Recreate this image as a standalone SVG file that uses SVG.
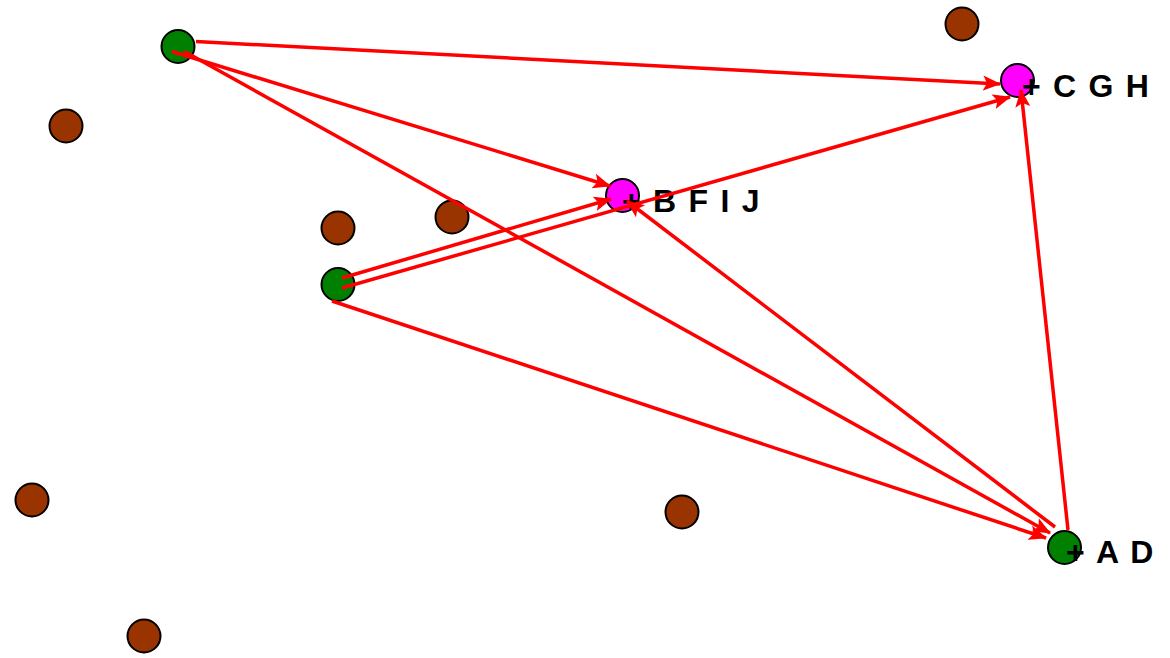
<svg xmlns="http://www.w3.org/2000/svg" width="1170" height="658" viewBox="0 0 1170 658">
<defs>
<style>
.n circle{stroke:#000;stroke-width:2}
.g{fill:#008000}.m{fill:#ff00ff}.b{fill:#993300}
.lbl{font-family:"Liberation Sans",Arial,sans-serif;font-weight:bold;font-size:32px;word-spacing:3.5px;fill:#000}
.e line{stroke:#ff0000;stroke-width:3.5;fill:none}
</style>
<marker id="ah" markerUnits="userSpaceOnUse" markerWidth="20" markerHeight="16" refX="17" refY="7.5" orient="auto" viewBox="0 0 20 15">
<path d="M0,0 L18,7.5 L0,15 L4,7.5 z" fill="#ff0000"/>
</marker>
</defs>
<rect width="1170" height="658" fill="#fff"/>
<g id="n1" class="n"><circle class="g" cx="178" cy="46.5" r="16.5"/></g>
<g id="n2" class="n"><circle class="b" cx="962" cy="24" r="16.5"/></g>
<g id="nC" class="n"><circle class="m" cx="1017.5" cy="80.5" r="16.5"/><text class="lbl" x="1022" y="97">+ C G H</text></g>
<g id="n3" class="n"><circle class="b" cx="66" cy="126" r="16.5"/></g>
<g id="nB" class="n"><circle class="m" cx="622.5" cy="195.5" r="16.5"/><text class="lbl" x="622" y="212">+ B F I J</text></g>
<g id="n4" class="n"><circle class="b" cx="338" cy="228" r="16.5"/></g>
<g id="n5" class="n"><circle class="b" cx="452" cy="217" r="16.5"/></g>
<g id="n6" class="n"><circle class="g" cx="338" cy="284.5" r="16.5"/></g>
<g id="n7" class="n"><circle class="b" cx="32" cy="500" r="16.5"/></g>
<g id="n8" class="n"><circle class="b" cx="682" cy="512" r="16.5"/></g>
<g id="nA" class="n"><circle class="g" cx="1064.5" cy="547.5" r="16.5"/><text class="lbl" x="1066" y="563">+ A D</text></g>
<g id="n9" class="n"><circle class="b" cx="144" cy="636" r="16.5"/></g>
<g id="edges" class="e">
<line x1="196" y1="41.5" x2="1000" y2="84" marker-end="url(#ah)"/>
<line x1="172" y1="51.5" x2="610" y2="186" marker-end="url(#ah)"/>
<line x1="184.5" y1="51.5" x2="1050" y2="533" marker-end="url(#ah)"/>
<line x1="342" y1="278" x2="611" y2="199" marker-end="url(#ah)"/>
<line x1="342" y1="288" x2="1010" y2="97" marker-end="url(#ah)"/>
<line x1="332" y1="301" x2="1046" y2="538" marker-end="url(#ah)"/>
<line x1="1055" y1="527" x2="627" y2="201" marker-end="url(#ah)"/>
<line x1="1068" y1="530" x2="1021" y2="90" marker-end="url(#ah)"/>
</g>
</svg>
